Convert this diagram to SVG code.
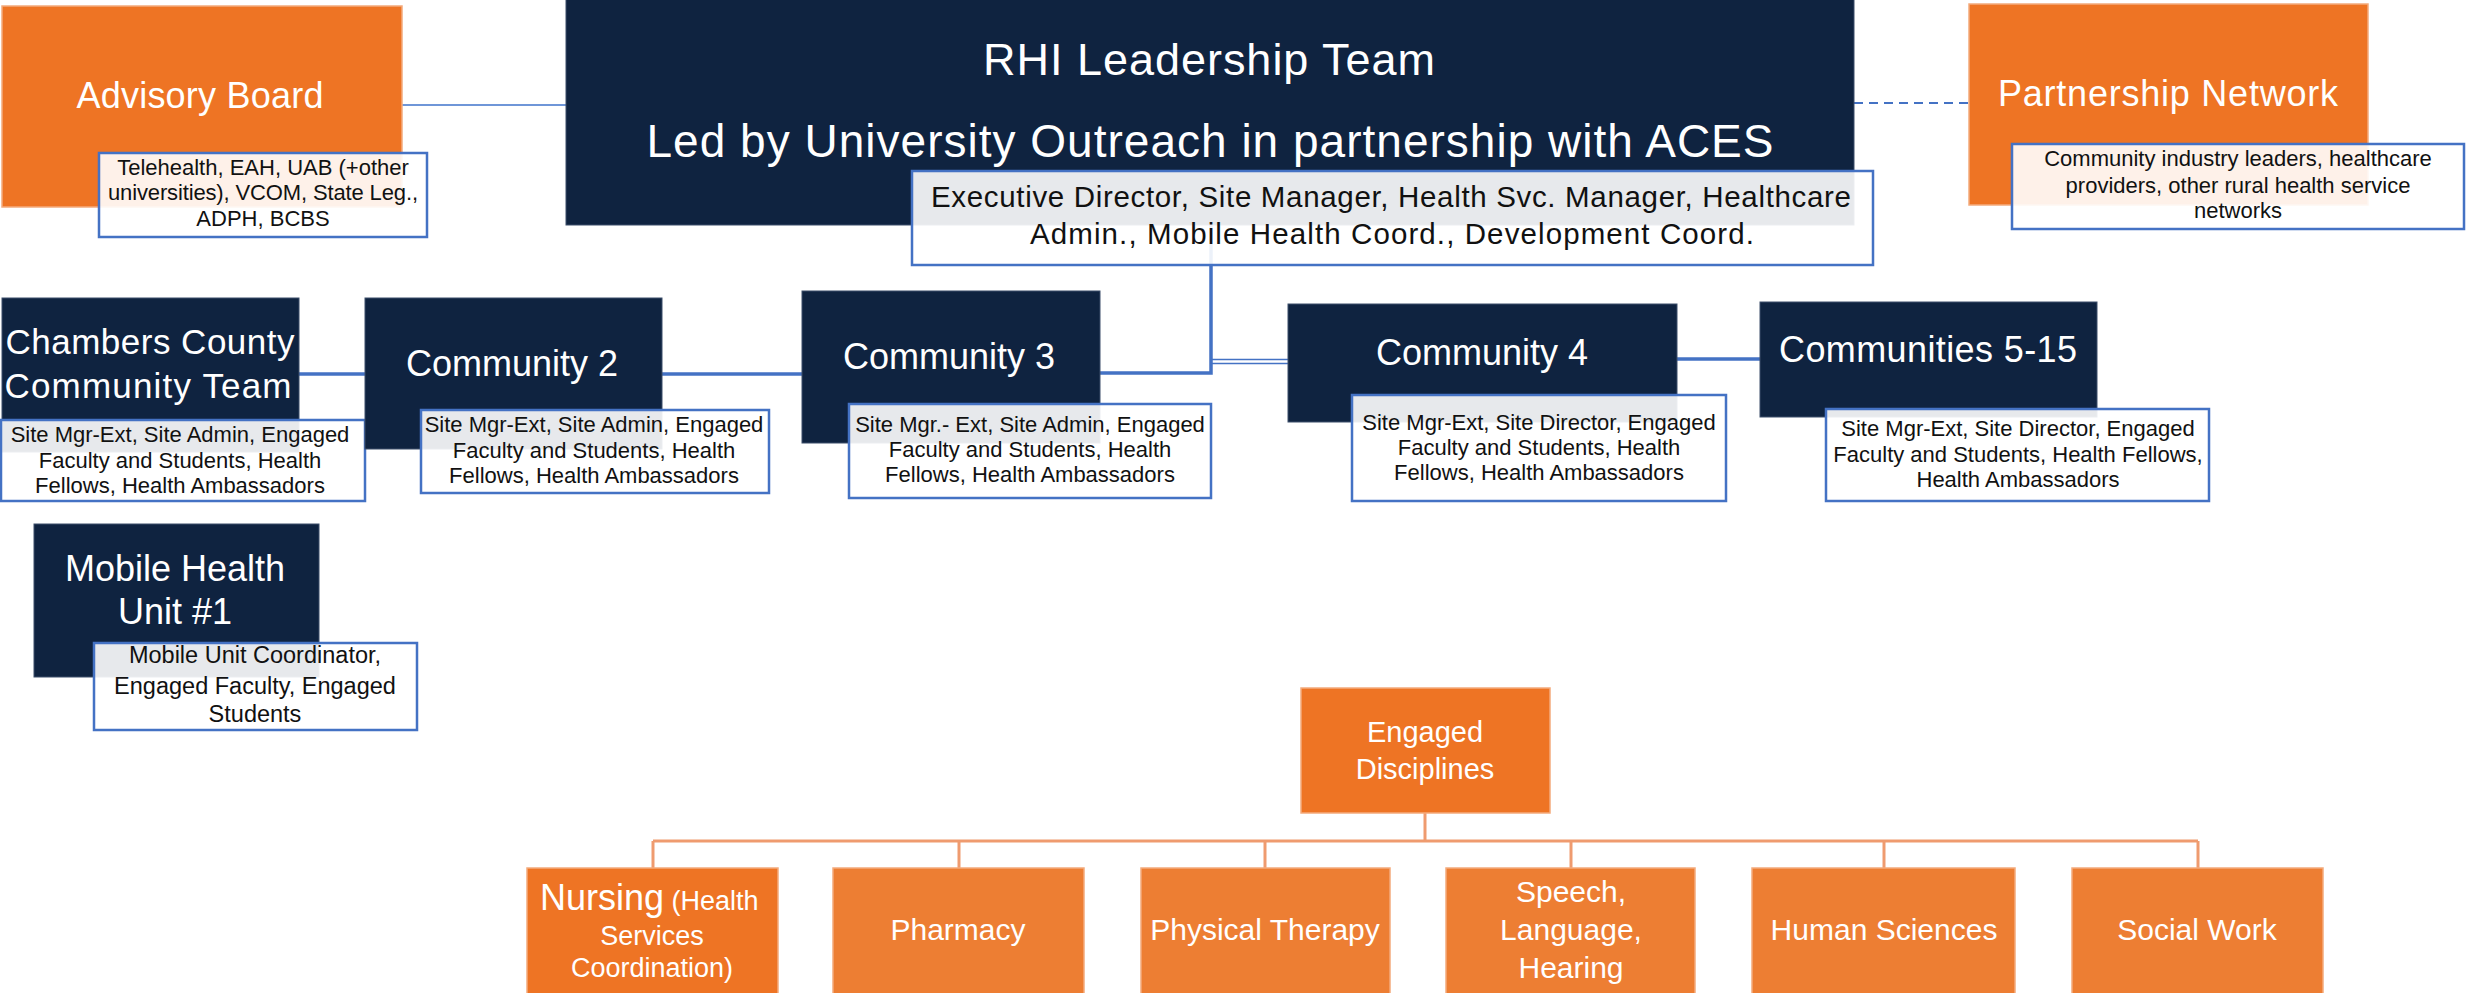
<svg xmlns="http://www.w3.org/2000/svg" width="2466" height="993" viewBox="0 0 2466 993">
<style>
.dark{fill:#0f2340;stroke:#3d4f6b;stroke-width:1}
.orA{fill:#ee7424;stroke:#f4ab7c;stroke-width:1.5}
.orB{fill:#ed7e33;stroke:#f4ab7c;stroke-width:1.5}
.desc{fill:#ffffff;fill-opacity:0.9;stroke:#4472c4;stroke-width:2.5}
.t{font-family:"Liberation Sans",Arial,sans-serif;fill:#ffffff;text-anchor:middle}
.d{font-family:"Liberation Sans",Arial,sans-serif;fill:#111111;text-anchor:middle;font-size:22px}
.c{stroke:#4472c4;stroke-width:3.5;fill:none}
.o{stroke:#ef9b6f;stroke-width:3;fill:none}
</style>
<g id="connectors">
<line x1="402" y1="105" x2="566" y2="105" stroke="#6f96d8" stroke-width="2"/>
<line x1="1854" y1="103" x2="1969" y2="103" stroke="#4472c4" stroke-width="2" stroke-dasharray="9,6"/>
<line class="c" x1="299" y1="374" x2="365" y2="374" stroke-width="3"/>
<line class="c" x1="662" y1="374" x2="802" y2="374"/>
<polyline class="c" points="1100,373 1211,373 1211,225"/>
<line x1="1211" y1="359.5" x2="1288" y2="359.5" stroke="#4472c4" stroke-width="1.6"/>
<line x1="1211" y1="363.5" x2="1288" y2="363.5" stroke="#4472c4" stroke-width="1.6"/>
<line class="c" x1="1677" y1="359" x2="1760" y2="359" stroke-width="3"/>
<line class="o" x1="1425" y1="813" x2="1425" y2="841"/>
<line class="o" x1="653" y1="841" x2="2198" y2="841"/>
<line class="o" x1="653" y1="841" x2="653" y2="868"/>
<line class="o" x1="959" y1="841" x2="959" y2="868"/>
<line class="o" x1="1265" y1="841" x2="1265" y2="868"/>
<line class="o" x1="1571" y1="841" x2="1571" y2="868"/>
<line class="o" x1="1884" y1="841" x2="1884" y2="868"/>
<line class="o" x1="2198" y1="841" x2="2198" y2="868"/>
</g>
<g id="advisory-board">
<rect class="orA" x="2" y="6" width="400" height="201"/>
<text class="t" x="200" y="108" font-size="36" textLength="247">Advisory Board</text>
<rect class="desc" x="99" y="153" width="328" height="84"/>
<text class="d" x="263" y="175">Telehealth, EAH, UAB (+other</text>
<text class="d" x="263" y="200" textLength="310">universities), VCOM, State Leg.,</text>
<text class="d" x="263" y="226">ADPH, BCBS</text>
</g>
<g id="rhi-leadership">
<rect class="dark" x="566" y="-2" width="1288" height="227"/>
<text class="t" x="1209" y="75" font-size="45" textLength="452">RHI Leadership Team</text>
<text class="t" x="1210" y="157" font-size="46" textLength="1127">Led by University Outreach in partnership with ACES</text>
<rect class="desc" x="912" y="171" width="961" height="94"/>
<text class="d" x="1391" y="207" style="font-size:29.5px" textLength="920">Executive Director, Site Manager, Health Svc. Manager, Healthcare</text>
<text class="d" x="1392" y="244" style="font-size:29.5px" textLength="724">Admin., Mobile Health Coord., Development  Coord.</text>
</g>
<g id="partnership-network">
<rect class="orA" x="1969" y="4" width="399" height="201"/>
<text class="t" x="2168" y="106" font-size="36" textLength="340">Partnership Network</text>
<rect class="desc" x="2012" y="144" width="452" height="85"/>
<text class="d" x="2238" y="166">Community industry leaders, healthcare</text>
<text class="d" x="2238" y="193">providers, other rural health service</text>
<text class="d" x="2238" y="218">networks</text>
</g>
<g id="chambers-county">
<rect class="dark" x="2" y="298" width="297" height="154"/>
<text class="t" x="150" y="354" font-size="35" textLength="289">Chambers County</text>
<text class="t" x="148" y="398" font-size="35" textLength="287">Community Team</text>
<rect class="desc" x="1" y="420" width="364" height="81"/>
<text class="d" x="180" y="442">Site Mgr-Ext, Site Admin, Engaged</text>
<text class="d" x="180" y="468">Faculty and Students, Health</text>
<text class="d" x="180" y="493">Fellows, Health Ambassadors</text>
</g>
<g id="community-2">
<rect class="dark" x="365" y="298" width="297" height="151"/>
<text class="t" x="512" y="376" font-size="36">Community 2</text>
<rect class="desc" x="421" y="410" width="348" height="83"/>
<text class="d" x="594" y="432">Site Mgr-Ext, Site Admin, Engaged</text>
<text class="d" x="594" y="458">Faculty and Students, Health</text>
<text class="d" x="594" y="483">Fellows, Health Ambassadors</text>
</g>
<g id="community-3">
<rect class="dark" x="802" y="291" width="298" height="152"/>
<text class="t" x="949" y="369" font-size="36">Community 3</text>
<rect class="desc" x="849" y="404" width="362" height="94"/>
<text class="d" x="1030" y="432">Site Mgr.- Ext, Site Admin, Engaged</text>
<text class="d" x="1030" y="457">Faculty and Students, Health</text>
<text class="d" x="1030" y="482">Fellows, Health Ambassadors</text>
</g>
<g id="community-4">
<rect class="dark" x="1288" y="304" width="389" height="118"/>
<text class="t" x="1482" y="365" font-size="36">Community 4</text>
<rect class="desc" x="1352" y="395" width="374" height="106"/>
<text class="d" x="1539" y="430">Site Mgr-Ext, Site Director, Engaged</text>
<text class="d" x="1539" y="455">Faculty and Students, Health</text>
<text class="d" x="1539" y="480">Fellows, Health Ambassadors</text>
</g>
<g id="communities-5-15">
<rect class="dark" x="1760" y="302" width="337" height="115"/>
<text class="t" x="1928" y="362" font-size="36" textLength="298">Communities 5-15</text>
<rect class="desc" x="1826" y="409" width="383" height="92"/>
<text class="d" x="2018" y="436">Site Mgr-Ext, Site Director, Engaged</text>
<text class="d" x="2018" y="462">Faculty and Students, Health Fellows,</text>
<text class="d" x="2018" y="487">Health Ambassadors</text>
</g>
<g id="mobile-health-unit">
<rect class="dark" x="34" y="524" width="285" height="153"/>
<text class="t" x="175" y="581" font-size="36">Mobile Health</text>
<text class="t" x="175" y="624" font-size="36">Unit #1</text>
<rect class="desc" x="94" y="643" width="323" height="87"/>
<text class="d" x="255" y="663" style="font-size:23.5px">Mobile Unit Coordinator,</text>
<text class="d" x="255" y="694" style="font-size:23.5px">Engaged  Faculty, Engaged</text>
<text class="d" x="255" y="722" style="font-size:23.5px">Students</text>
</g>
<g id="engaged-disciplines">
<rect class="orA" x="1301" y="688" width="249" height="125"/>
<text class="t" x="1425" y="742" font-size="29">Engaged</text>
<text class="t" x="1425" y="779" font-size="29">Disciplines</text>
</g>
<g id="nursing">
<rect class="orA" x="527" y="868" width="251" height="135"/>
<text class="t" x="540" y="910" style="text-anchor:start"><tspan font-size="36">Nursing</tspan><tspan font-size="27"> (Health</tspan></text>
<text class="t" x="652" y="945" font-size="27">Services</text>
<text class="t" x="652" y="977" font-size="27">Coordination)</text>
</g>
<g id="pharmacy">
<rect class="orB" x="833" y="868" width="251" height="135"/>
<text class="t" x="958" y="940" font-size="30">Pharmacy</text>
</g>
<g id="physical-therapy">
<rect class="orB" x="1141" y="868" width="249" height="135"/>
<text class="t" x="1265" y="940" font-size="30">Physical Therapy</text>
</g>
<g id="speech-language-hearing">
<rect class="orB" x="1446" y="868" width="249" height="135"/>
<text class="t" x="1571" y="902" font-size="30">Speech,</text>
<text class="t" x="1571" y="940" font-size="30">Language,</text>
<text class="t" x="1571" y="978" font-size="30">Hearing</text>
</g>
<g id="human-sciences">
<rect class="orB" x="1752" y="868" width="263" height="135"/>
<text class="t" x="1884" y="940" font-size="30">Human Sciences</text>
</g>
<g id="social-work">
<rect class="orB" x="2072" y="868" width="251" height="135"/>
<text class="t" x="2197" y="940" font-size="30">Social Work</text>
</g>
</svg>
